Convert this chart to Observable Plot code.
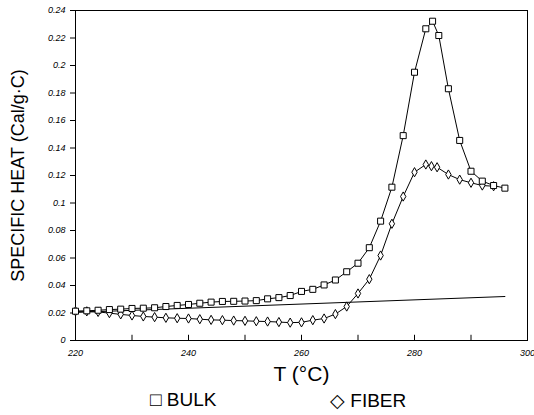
<!DOCTYPE html>
<html>
<head>
<meta charset="utf-8">
<script src="https://cdn.jsdelivr.net/npm/d3@7"></script>
<script src="https://cdn.jsdelivr.net/npm/@observablehq/plot@0.6"></script>
<style>
  body { margin: 0; background: #fff; }
  #wrap { position: relative; width: 534px; height: 415px; font-family: "Liberation Sans", Arial, sans-serif; }
  .leg { position: absolute; top: 389px; font-size: 19px; color: #000; }
</style>
</head>
<body>
<div id="wrap"></div>
<script>
const bulkT = [220,222,224,226,228,230,232,234,236,238,240,242,244,246,248,250,252,254,256,258,260,262,264,266,268,270,272,274,276,278,280,282,283.2,284.3,286,288,290,292,294,296];
const bulkV = [0.0213,0.0216,0.022,0.0225,0.0228,0.0233,0.0235,0.0238,0.0247,0.0255,0.0262,0.0271,0.0279,0.0284,0.0285,0.0287,0.029,0.0303,0.0312,0.0327,0.0357,0.0372,0.0404,0.044,0.05,0.0562,0.0675,0.0868,0.1115,0.149,0.1951,0.2267,0.2322,0.2218,0.1831,0.1455,0.1231,0.1159,0.1127,0.1108];
const fiberT = [220,222,224,226,228,230,232,234,236,238,240,242,244,246,248,250,252,254,256,258,260,262,264,266,268,270,272,274,276,278,280,282,283,284,286,288,290,292,294];
const fiberV = [0.0213,0.0212,0.0208,0.0199,0.019,0.0182,0.0175,0.017,0.0165,0.0162,0.016,0.0155,0.015,0.0148,0.0145,0.0143,0.014,0.0138,0.0134,0.013,0.0132,0.0148,0.016,0.0192,0.0247,0.0342,0.0446,0.0618,0.0849,0.1047,0.1224,0.128,0.1268,0.126,0.1207,0.117,0.1147,0.1127,0.1122];
const baseT = [220, 296];
const baseV = [0.0204, 0.032];
const yTicks = [0,0.02,0.04,0.06,0.08,0.1,0.12,0.14,0.16,0.18,0.2,0.22,0.24];
const xLabelTicks = [220,240,260,280,300];
const xMinorTicks = [220,230,240,250,260,270,280,290,300];
const xTitle = "T (°C)";
const yTitle = "SPECIFIC HEAT (Cal/g·C)";
const legendItems = [{sym:"□", name:"BULK"}, {sym:"◇", name:"FIBER"}];

const bulk = bulkT.map((t,i)=>({t, v: bulkV[i]}));
const fiber = fiberT.map((t,i)=>({t, v: fiberV[i]}));
const base = baseT.map((t,i)=>({t, v: baseV[i]}));

const chart = Plot.plot({
  width: 534,
  height: 390,
  marginLeft: 75,
  marginRight: 7,
  marginTop: 10,
  marginBottom: 50,
  style: {fontFamily: "Liberation Sans, Arial, sans-serif", background: "#fff", color: "#000"},
  x: {domain: [220, 300]},
  y: {domain: [0, 0.24]},
  marks: [
    Plot.frame({stroke: "#000", strokeWidth: 1}),
    Plot.axisY({ticks: yTicks, tickSize: 5, tickPadding: 5, fontSize: 9, fontStyle: "italic", tickFormat: d => d === 0 ? "0" : String(+d.toFixed(2)), label: null}),
    Plot.axisX({ticks: xLabelTicks, tickSize: 0, tickPadding: 9, fontSize: 9, fontStyle: "italic", label: null}),
    Plot.ruleX(xMinorTicks, {x: d => d, y1: 0, y2: 0.0038, stroke: "#000"}),
    Plot.text([xTitle], {frameAnchor: "bottom", textAnchor: "middle", dy: 40, fontSize: 21, fill: "#000"}),
    Plot.text([yTitle], {frameAnchor: "left", textAnchor: "middle", dx: -57, rotate: -90, fontSize: 18, fill: "#000"}),
    Plot.line(base, {x: "t", y: "v", stroke: "#000", strokeWidth: 1}),
    Plot.line(fiber, {x: "t", y: "v", stroke: "#000", strokeWidth: 1}),
    Plot.line(bulk, {x: "t", y: "v", stroke: "#000", strokeWidth: 1}),
    Plot.dot(fiber, {x: "t", y: "v", symbol: "diamond", r: 2.8, fill: "#fff", stroke: "#000", strokeWidth: 1}),
    Plot.dot(bulk, {x: "t", y: "v", symbol: "square", r: 3.4, fill: "#fff", stroke: "#000", strokeWidth: 1})
  ]
});
const wrap = document.getElementById("wrap");
wrap.appendChild(chart);
const lefts = [150, 330];
legendItems.forEach((it, i) => {
  const d = document.createElement("div");
  d.className = "leg";
  d.style.left = lefts[i] + "px";
  d.textContent = it.sym + " " + it.name;
  wrap.appendChild(d);
});
</script>
</body>
</html>
